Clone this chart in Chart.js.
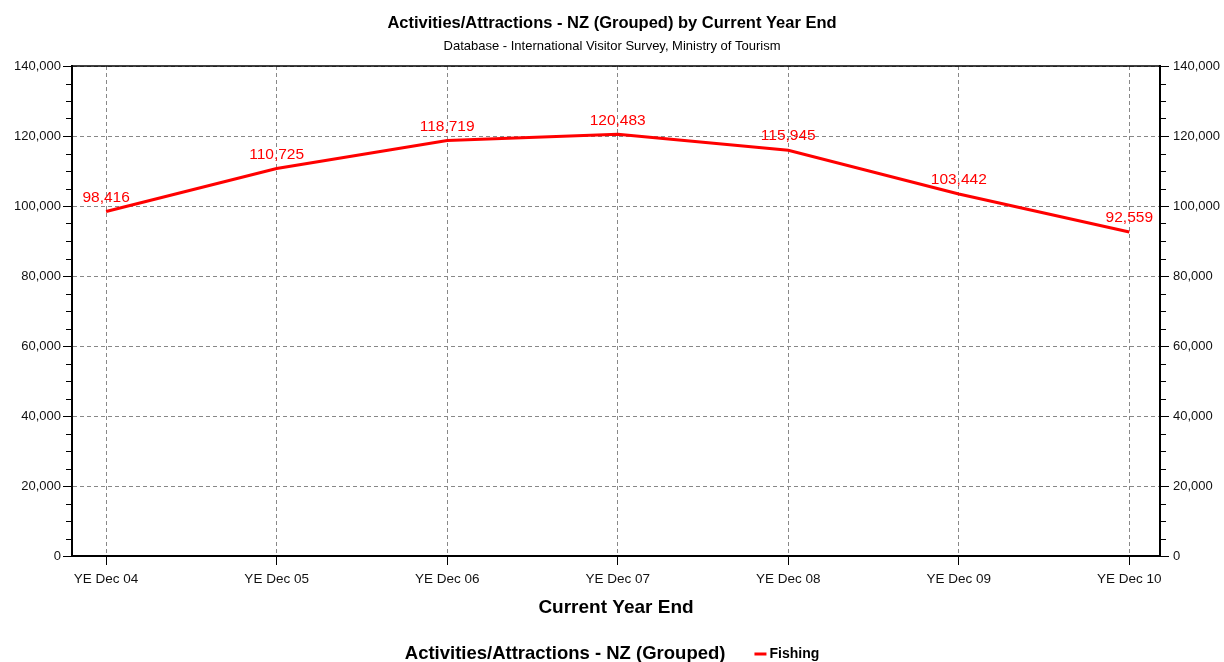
<!DOCTYPE html>
<html>
<head>
<meta charset="utf-8">
<script src="https://cdn.jsdelivr.net/npm/chart.js@4/dist/chart.umd.min.js"></script>
<style>
  body { margin: 0; background: #fff; }
  #wrap { width: 1224px; height: 662px; }
</style>
</head>
<body>
<div id="wrap"><canvas id="chart" width="1224" height="662"></canvas></div>
<script>
// 数据
var categories = ['YE Dec 04', 'YE Dec 05', 'YE Dec 06', 'YE Dec 07', 'YE Dec 08', 'YE Dec 09', 'YE Dec 10'];
var fishing = [98416, 110725, 118719, 120483, 115945, 103442, 92559];
var yMax = 140000;
var yStep = 20000;
var yMinorStep = 5000;
var seriesName = 'Fishing';
var legendTitle = 'Activities/Attractions - NZ (Grouped)';

var FONT = "'Liberation Sans', Arial, sans-serif";
var RED = 'rgb(255, 0, 0)';

function fmt(v) {
    return Number(v).toLocaleString('en-US');
}

// 数值标签
var valueLabels = {
    id: 'valueLabels',
    afterDatasetsDraw: function(chart) {
        var ctx = chart.ctx;
        var meta = chart.getDatasetMeta(0);
        var ds = chart.data.datasets[0];
        ctx.save();
        ctx.font = '15.5px ' + FONT;
        ctx.fillStyle = RED;
        ctx.textAlign = 'center';
        ctx.textBaseline = 'middle';
        meta.data.forEach(function(p, i) {
            ctx.fillText(fmt(ds.data[i].y), p.x, p.y - 14);
        });
        ctx.restore();
    }
};

// 外框和次刻度
var frame = {
    id: 'frame',
    afterDraw: function(chart) {
        var ctx = chart.ctx;
        var a = chart.chartArea;
        var y = chart.scales.y;
        ctx.save();
        ctx.strokeStyle = '#000';
        ctx.lineWidth = 1.5;
        ctx.beginPath();
        ctx.moveTo(a.left - 1, a.top);
        ctx.lineTo(a.right + 1, a.top);
        ctx.stroke();
        ctx.lineWidth = 1;
        ctx.beginPath();
        for (var v = 0; v <= yMax; v += yMinorStep) {
            if (v % yStep === 0) continue;
            var py = Math.round(y.getPixelForValue(v)) + 0.5;
            ctx.moveTo(a.left - 6, py);
            ctx.lineTo(a.left, py);
            ctx.moveTo(a.right, py);
            ctx.lineTo(a.right + 6, py);
        }
        ctx.stroke();
        ctx.restore();
    }
};

// 底部图例
var bottomLegend = {
    id: 'bottomLegend',
    afterDraw: function(chart) {
        var ctx = chart.ctx;
        var ds = chart.data.datasets[0];
        var y = chart.height - 8;
        ctx.save();
        ctx.textBaseline = 'middle';
        ctx.textAlign = 'left';
        ctx.font = 'bold 18.5px ' + FONT;
        var tw = ctx.measureText(legendTitle).width;
        ctx.font = 'bold 14px ' + FONT;
        var fw = ctx.measureText(ds.label).width;
        var total = tw + 29 + 12 + 3 + fw;
        var x = (chart.width - total) / 2;
        ctx.fillStyle = '#000';
        ctx.font = 'bold 18.5px ' + FONT;
        ctx.fillText(legendTitle, x, y);
        x += tw + 29;
        ctx.strokeStyle = ds.borderColor;
        ctx.lineWidth = 3;
        ctx.beginPath();
        ctx.moveTo(x, y);
        ctx.lineTo(x + 12, y);
        ctx.stroke();
        x += 15;
        ctx.font = 'bold 14px ' + FONT;
        ctx.fillText(ds.label, x, y);
        ctx.restore();
    }
};

var yAxisBase = function(pos, width) {
    return {
        position: pos,
        min: 0,
        max: yMax,
        ticks: {
            stepSize: yStep,
            callback: function(v) { return fmt(v); },
            font: { size: 13, family: FONT },
            color: '#111',
            padding: pos === 'left' ? 2 : 4
        },
        grid: {
            color: '#888',
            drawOnChartArea: pos === 'left',
            tickColor: '#000',
            tickLength: 9,
            tickBorderDash: []
        },
        border: { color: '#000', width: 2, dash: [4, 3] },
        afterFit: function(s) { s.width = width; }
    };
};

var chart = new Chart(document.getElementById('chart'), {
    type: 'line',
    data: {
        datasets: [{
            label: seriesName,
            data: fishing.map(function(v, i) { return { x: i, y: v }; }),
            borderColor: RED,
            backgroundColor: RED,
            borderWidth: 3,
            pointRadius: 0,
            tension: 0,
            fill: false
        }]
    },
    options: {
        responsive: false,
        animation: false,
        layout: { padding: { top: 0, left: 0, right: 0, bottom: 42.6 } },
        scales: {
            x: {
                type: 'linear',
                position: 'bottom',
                min: -0.2,
                max: 6.18,
                afterBuildTicks: function(s) {
                    s.ticks = categories.map(function(c, i) { return { value: i }; });
                },
                ticks: {
                    autoSkip: false,
                    maxRotation: 0,
                    callback: function(v) { return categories[v]; },
                    font: { size: 13.5, family: FONT },
                    color: '#111',
                    padding: 6
                },
                grid: {
                    color: '#888',
                    tickColor: '#000',
                    tickLength: 9,
                    tickBorderDash: []
                },
                border: { color: '#000', width: 2, dash: [4, 3] },
                title: {
                    display: true,
                    text: 'Current Year End',
                    font: { size: 19, weight: 'bold', family: FONT },
                    color: '#000',
                    padding: { top: 3.4, bottom: 0 }
                }
            },
            y: yAxisBase('left', 72),
            y2: yAxisBase('right', 64)
        },
        plugins: {
            legend: { display: false },
            tooltip: { enabled: false },
            title: {
                display: true,
                text: 'Activities/Attractions - NZ (Grouped) by Current Year End',
                font: { size: 16.5, weight: 'bold', family: FONT },
                color: '#000',
                padding: { top: 14, bottom: 1 }
            },
            subtitle: {
                display: true,
                text: 'Database - International Visitor Survey, Ministry of Tourism',
                font: { size: 13, family: FONT },
                color: '#000',
                padding: { top: 3.4, bottom: 12.2 }
            }
        }
    },
    plugins: [valueLabels, frame, bottomLegend]
});
</script>
</body>
</html>
